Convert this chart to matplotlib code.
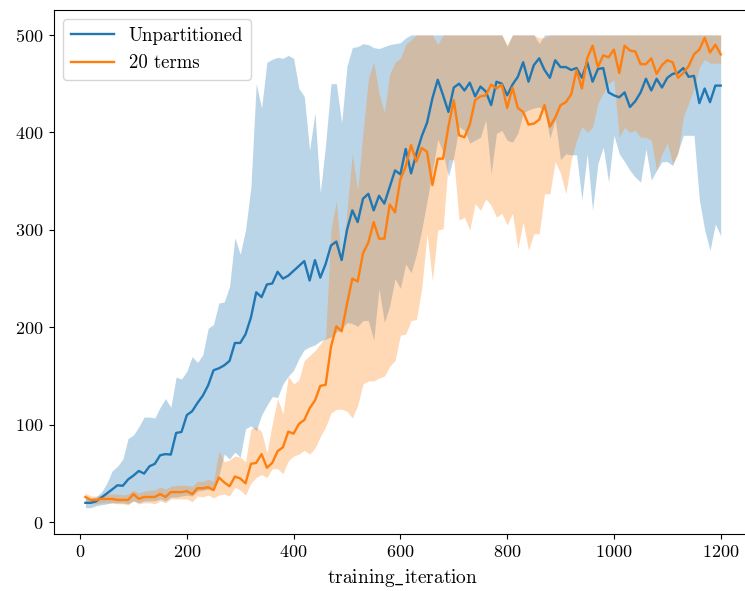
import numpy as np
import matplotlib
matplotlib.use("Agg")
import matplotlib.pyplot as plt

plt.rcParams['font.family'] = ['cmr10', 'DejaVu Serif']
plt.rcParams['mathtext.fontset'] = 'cm'
plt.rcParams['axes.formatter.use_mathtext'] = True
plt.rcParams['axes.unicode_minus'] = False

iterations = list(range(10, 1201, 10))

unpart_mean = [20, 20, 21.5, 25.5, 29.5, 33.7, 38, 37.5, 44, 48,
               52.7, 50, 57.5, 60, 68.8, 70, 69.5, 91.7, 92.7, 110,
               114, 122.5, 130, 140.6, 156, 158, 161, 165.6, 184, 184,
               193, 210, 236, 231, 244, 245, 257, 250, 253, 258,
               263, 268, 248, 269, 251, 265, 284, 288, 269, 300,
               320, 308, 332, 337, 320, 335, 327, 344, 361, 357,
               383, 358, 378, 396, 410, 435, 454, 438, 421, 446,
               450, 443, 451, 437, 447, 442, 428, 452, 450, 438,
               449, 457, 472, 452, 469, 476, 464, 456, 474, 467,
               467, 464, 466, 456, 472, 452, 465, 466, 441, 438,
               436, 441, 426, 432, 441, 455, 443, 455, 446, 456,
               460, 461, 466, 457, 458, 430, 445, 431, 448, 448]

unpart_low = [15, 15, 17, 18, 19, 20, 20, 20, 19, 22,
              20, 22, 22, 22, 24, 22, 26, 26, 27, 28,
              27, 32, 33, 34, 34, 48, 70, 65, 72, 67,
              96, 99, 94, 110, 120, 129, 128, 142, 150, 156,
              168, 177, 180, 182, 186, 188, 190, 195, 198, 205,
              204, 201, 207, 207, 187, 240, 205, 222, 250, 240,
              265, 256, 275, 300, 330, 360, 393, 380, 355, 375,
              406, 402, 389, 392, 395, 413, 358, 399, 402, 392,
              390, 399, 420, 423, 425, 426, 423, 394, 413, 372,
              378, 377, 377, 331, 378, 320, 368, 385, 349, 397,
              378, 370, 361, 354, 349, 383, 351, 361, 370, 370,
              366, 380, 397, 397, 397, 331, 300, 279, 306, 294]

unpart_high = [24.6, 24.6, 26, 31, 40, 52.7, 57.5, 64.7, 86, 89.6,
               98, 108, 108, 107, 118, 127, 118, 149, 147, 155,
               170, 164, 172, 199, 203, 225, 226, 242, 292, 275,
               300, 344, 450, 425, 472, 475, 477, 476, 479, 476,
               445, 437, 382, 420, 338, 388, 450, 450, 410, 468,
               487, 488, 491, 490, 487, 486, 488, 490, 491, 492,
               497, 500, 500, 500, 500, 500, 500, 500, 500, 500,
               500, 500, 500, 500, 500, 500, 500, 500, 500, 488,
               500, 500, 500, 500, 500, 491, 500, 500, 500, 500,
               500, 500, 500, 500, 500, 500, 500, 500, 500, 500,
               500, 500, 500, 500, 500, 500, 500, 500, 500, 500,
               500, 500, 500, 500, 500, 500, 500, 500, 500, 500]

terms_mean = [26, 23, 23, 24, 24, 24, 23, 23, 23, 29,
              24, 26, 26, 26, 29, 26, 31, 31, 31, 32,
              29, 35, 35, 36, 33, 46, 41, 37, 47, 45,
              40, 60, 61, 70, 56, 61, 73, 77, 93, 91,
              101, 105, 117, 125, 140, 141, 180, 201, 196, 224,
              250, 247, 276, 287, 308, 291, 291, 326, 318, 352,
              365, 387, 370, 384, 380, 346, 373, 373, 406, 433,
              397, 395, 408, 433, 437, 438, 449, 445, 449, 425,
              446, 425, 421, 408, 409, 413, 428, 406, 415, 428,
              431, 439, 464, 445, 476, 489, 467, 479, 477, 485,
              461, 489, 484, 483, 470, 470, 476, 460, 469, 474,
              472, 456, 461, 468, 480, 485, 497, 482, 490, 480]

terms_low = [21, 19, 19, 20, 20, 20, 19, 19, 18, 22,
             19, 20, 20, 19, 22, 20, 24, 24, 24, 24,
             21, 27, 26, 28, 25, 28, 29, 27, 36, 33,
             28, 40, 46, 49, 46, 55, 55, 50, 63, 68,
             70, 74, 70, 76, 88, 98, 112, 116, 116, 114,
             107, 120, 142, 145, 145, 148, 150, 160, 166, 192,
             193, 207, 208, 240, 296, 248, 300, 301, 372, 372,
             310, 313, 300, 327, 320, 332, 325, 313, 317, 305,
             317, 281, 308, 279, 296, 296, 337, 337, 370, 358,
             337, 372, 392, 406, 400, 405, 430, 440, 450, 454,
             395, 405, 400, 402, 395, 395, 392, 361, 378, 389,
             368, 378, 416, 430, 445, 467, 475, 471, 471, 471]

terms_high = [30, 27, 27, 28, 29, 29, 29, 28, 29, 33,
              30, 32, 33, 33, 36, 34, 37, 38, 38, 38,
              37, 42, 42, 44, 42, 73, 62, 64, 68, 67,
              62, 96, 98, 93, 71, 101, 127, 111, 150, 142,
              146, 166, 171, 176, 183, 190, 300, 330, 265, 320,
              378, 340, 400, 455, 472, 440, 420, 460, 472, 476,
              490, 495, 500, 500, 500, 500, 490, 500, 500, 500,
              500, 500, 500, 500, 500, 500, 500, 500, 500, 490,
              500, 500, 500, 500, 500, 497, 497, 500, 500, 500,
              500, 500, 500, 500, 500, 500, 500, 500, 500, 500,
              500, 500, 500, 500, 500, 500, 500, 500, 500, 500,
              500, 500, 500, 500, 500, 500, 500, 500, 500, 500]

series = [
    ("Unpartitioned", unpart_mean, unpart_low, unpart_high, "#1f77b4"),
    ("20 terms", terms_mean, terms_low, terms_high, "#ff7f0e"),
]

fig = plt.figure(figsize=(7.45, 5.91), dpi=100)
ax = fig.add_axes([0.072, 0.0964, 0.938, 0.8866])

for label, m, lo, hi, col in series:
    ax.plot(iterations, m, color=col, lw=1.7, label=label)
    ax.fill_between(iterations, lo, hi, color=col, alpha=0.3, lw=0)

ax.set_xlim(-49.5, 1259.5)
ax.set_ylim(-12, 525.5)
ax.set_xticks([0, 200, 400, 600, 800, 1000, 1200])
ax.set_yticks([0, 100, 200, 300, 400, 500])
ax.tick_params(labelsize=13, pad=4)
ax.set_xlabel(r'$\mathrm{training\_iteration}$', fontsize=14, labelpad=5)
ax.legend(loc='upper left', fontsize=13.5, framealpha=0.8,
          handlelength=2.3, borderaxespad=0.5)

fig.savefig("out.png", dpi=100)
